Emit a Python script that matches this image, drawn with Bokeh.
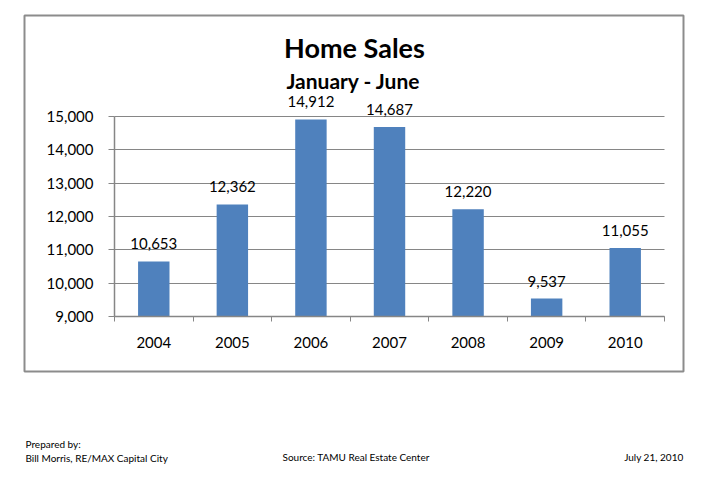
from bokeh.plotting import figure
from bokeh.models import (Range1d, FixedTicker, NumeralTickFormatter, ColumnDataSource,
                          LabelSet, Label, BoxAnnotation)
from bokeh.core.properties import value
from bokeh.embed import file_html
from bokeh.resources import INLINE

# ---- data ----
years = [2004, 2005, 2006, 2007, 2008, 2009, 2010]
sales = [10653, 12362, 14912, 14687, 12220, 9537, 11055]
y_ticks = [9000, 10000, 11000, 12000, 13000, 14000, 15000]
title_text = "Home Sales"
subtitle_text = "January - June"
footer_left = ["Prepared by:", "Bill Morris, RE/MAX Capital City"]
footer_mid = "Source:  TAMU Real Estate Center"
footer_right = "July 21, 2010"

FONT = "Lato"
BAR = "#4F81BD"
GRID = "#868686"

W, H = 697, 470
# pixel layout of the inner plot area (canvas px)
PX_L, PX_R, PX_T, PX_B = 114, 664, 116, 316

y_min, y_max = y_ticks[0], y_ticks[-1]
x_lo, x_hi = years[0] - 0.5, years[-1] + 0.5
xs = (x_hi - x_lo) / (PX_R - PX_L)      # data per px
ys = (y_max - y_min) / (PX_B - PX_T)

x_range = Range1d(x_lo - PX_L * xs, x_hi + (W - PX_R) * xs)
y_range = Range1d(y_min - (H - PX_B) * ys, y_max + PX_T * ys)

p = figure(width=W, height=H, output_backend="svg", toolbar_location=None,
           x_range=x_range, y_range=y_range,
           min_border_left=0, min_border_right=0, min_border_top=0, min_border_bottom=0)
p.outline_line_color = None
p.background_fill_color = "white"
p.border_fill_color = "white"

src = ColumnDataSource(dict(x=years, top=sales, lab=[f"{v:,}" for v in sales]))
p.vbar(x="x", top="top", bottom=y_min, width=0.4, source=src, fill_color=BAR, line_color=None)

# x axis
xa = p.xaxis[0]
xa.fixed_location = y_min
xa.bounds = (x_lo, x_hi)
xa.ticker = FixedTicker(ticks=years, minor_ticks=[y - 0.5 for y in years] + [x_hi])
xa.major_tick_out = 0
xa.major_tick_in = 0
xa.minor_tick_out = 5
xa.minor_tick_in = 0
xa.minor_tick_line_color = GRID
xa.axis_line_color = GRID
xa.axis_line_width = 1.5
xa.major_label_standoff = 15
xa.major_label_text_font = FONT
xa.major_label_text_font_size = "15px"
xa.major_label_text_color = "black"

# y axis
ya = p.yaxis[0]
ya.fixed_location = x_lo
ya.bounds = (y_min, y_max)
ya.ticker = FixedTicker(ticks=y_ticks)
ya.formatter = NumeralTickFormatter(format="0,0")
ya.major_tick_out = 6
ya.major_tick_in = 0
ya.major_tick_line_color = GRID
ya.minor_tick_line_color = None
ya.axis_line_color = GRID
ya.axis_line_width = 1.5
ya.major_label_standoff = 15
ya.major_label_text_font = FONT
ya.major_label_text_font_size = "15px"
ya.major_label_text_color = "black"

p.xgrid.grid_line_color = None
p.ygrid.grid_line_color = GRID
p.ygrid.grid_line_width = 1
p.ygrid.cross_bounds = (x_lo, x_hi)

labels = LabelSet(x="x", y="top", text="lab", source=src, text_align="center",
                  text_baseline="alphabetic", y_offset=12, text_font=value(FONT),
                  text_font_size=value("15px"), text_color="black")
p.add_layout(labels)

# outer border box
p.add_layout(BoxAnnotation(left=24, right=683, top=15, bottom=371,
                           left_units="canvas", right_units="canvas",
                           top_units="canvas", bottom_units="canvas",
                           fill_alpha=0, line_color="#8c8c8c", line_alpha=1, line_width=2))

def add_text(x, y, text, size, bold=False, align="left"):
    p.add_layout(Label(x=x, y=y, x_units="canvas", y_units="canvas", text=text,
                       text_font=FONT, text_font_size=size,
                       text_font_style="bold" if bold else "normal",
                       text_align=align, text_baseline="alphabetic", text_color="black"))

add_text(354, 47, title_text, "27px", bold=True, align="center")
add_text(353, 80, subtitle_text, "21px", bold=True, align="center")
add_text(25, 443, footer_left[0], "10px")
add_text(25, 457, footer_left[1], "10px")
add_text(282, 456, footer_mid, "10px")
add_text(683, 456, footer_right, "10px", align="right")

open("out.html", "w").write(file_html(p, INLINE))
